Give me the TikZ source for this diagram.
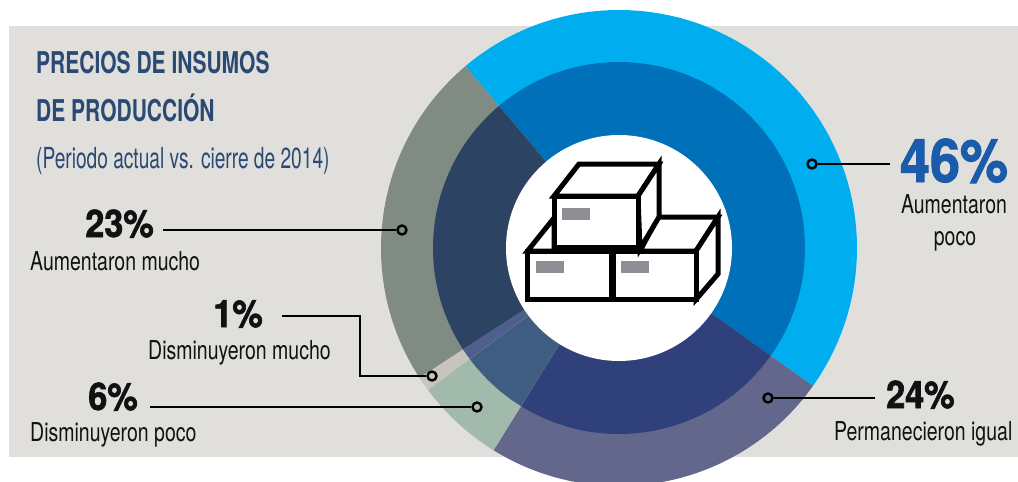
\documentclass[tikz,border=0pt]{standalone}
\usepackage{fontspec}
\setmainfont{TeX Gyre Heros}
\newfontfamily\titlefont{TeX Gyre Heros}[FakeStretch=0.70]
\newfontfamily\subfont{TeX Gyre Heros}[FakeStretch=0.66]
\newfontfamily\labfont{TeX Gyre Heros}[FakeStretch=0.75]
\newfontfamily\numfont{TeX Gyre Heros}[FakeStretch=0.90,FakeBold=1.6]
\definecolor{bgc}{HTML}{E0DFDC}
\definecolor{titlec}{HTML}{2A4A73}
\definecolor{num46}{HTML}{1B5CAA}
\definecolor{lblue}{HTML}{00AEEF}
\definecolor{dblue}{HTML}{0070B9}
\definecolor{purp}{HTML}{63678C}
\definecolor{navy}{HTML}{30407A}
\definecolor{lgreen}{HTML}{A2BAAC}
\definecolor{steel}{HTML}{3E5D80}
\definecolor{beige}{HTML}{C8C3BC}
\definecolor{thinc}{HTML}{4E5E8E}
\definecolor{ggreen}{HTML}{7F8B83}
\definecolor{slate}{HTML}{2C4363}
\definecolor{labc}{HTML}{111111}
\definecolor{tagc}{HTML}{8D8F94}
\begin{document}
\begin{tikzpicture}[x=1pt,y=-1pt,
  lab/.style={font=\labfont\fontsize{26}{26}\selectfont, inner sep=0pt, text=labc},
  num/.style={font=\numfont\bfseries\fontsize{38}{38}\selectfont, inner sep=0pt, text=labc},
  dotc/.style={circle, draw=black, line width=2.4pt, minimum size=9pt, inner sep=0pt},
  leader/.style={draw=black, line width=2.6pt, line join=miter},
  boxl/.style={draw=black, line width=5pt, fill=white, line join=miter},
  tag/.style={fill=tagc},
]
\useasboundingbox (0,0) rectangle (1018,482);
\begin{scope}
\clip (0,0) rectangle (1018,482);
\fill[bgc] (9,26) rectangle (1018,457);
\coordinate (C) at (619,248);
\foreach \a/\b/\co/\ci in {-130.2/35.4/lblue/dblue, 35.4/121.8/purp/navy, 121.8/143.4/lgreen/steel, 143.4/147.0/beige/thinc, 147.0/229.8/ggreen/slate}{
  \fill[\co] (C) -- ++(\a:238) arc[start angle=\a, end angle=\b, radius=238] -- cycle;
  \fill[\ci] (C) -- ++(\a:186) arc[start angle=\a, end angle=\b, radius=186] -- cycle;
}
\fill[white] (C) circle[radius=113];
\end{scope}

% box icon
\draw[boxl] (527.5,251) -- (554,218) -- (554,251) -- cycle;
\draw[boxl] (527.5,251) rectangle (611,299.5);
\draw[boxl] (640,251) -- (658,217) -- (718,217) -- (696,251) -- cycle;
\draw[boxl] (696,251) -- (718,217) -- (718,274) -- (696,299.5) -- cycle;
\draw[boxl] (613,251) rectangle (696,299.5);
\draw[boxl] (554,196) -- (579,164) -- (659,164) -- (638,196) -- cycle;
\draw[boxl] (638,196) -- (659,164) -- (659,217) -- (640,249) -- cycle;
\draw[boxl] (554,196) rectangle (638,247);
\fill[tag] (562,208) rectangle (590,220);
\fill[tag] (536,261) rectangle (564,273);
\fill[tag] (621,261) rectangle (649,273);

% title
\node[anchor=base west, inner sep=0pt, text=titlec, font=\titlefont\bfseries\fontsize{30}{30}\selectfont] (t1) at (36,73) {PRECIOS DE INSUMOS};
\node[anchor=base west, inner sep=0pt, text=titlec, font=\titlefont\bfseries\fontsize{30}{30}\selectfont] (t2) at (36,121) {DE PRODUCCIÓN};
\node[anchor=base west, inner sep=0pt, text=titlec, font=\subfont\fontsize{29}{29}\selectfont] (t3) at (36,168) {(Periodo actual vs. cierre de 2014)};

% 46%
\node[dotc] (d46) at (812,164) {};
\coordinate (e46) at (890,164);
\draw[leader] (d46) -- (e46);
\node[anchor=base, inner sep=0pt, text=num46, font=\numfont\bfseries\fontsize{60}{60}\selectfont] (n46) at (954,182) {46\%};
\node[lab, anchor=base] (a46) at (954,213) {Aumentaron};
\node[lab, anchor=base] (b46) at (955,245) {poco};

% 24%
\node[dotc] (d24) at (768,398) {};
\coordinate (e24) at (875,398);
\draw[leader] (d24) -- (e24);
\node[num, anchor=base west] (n24) at (886,408) {24\%};
\node[lab, anchor=base west] (a24) at (834,440) {Permanecieron igual};

% 23%
\node[dotc] (d23) at (402,230) {};
\coordinate (s23) at (163,230);
\draw[leader] (s23) -- (d23);
\node[num, anchor=base east] (n23) at (154,237) {23\%};
\node[lab, anchor=base west] (a23) at (30,270) {Aumentaron mucho};

% 1%
\node[dotc] (d1) at (432,376) {};
\coordinate (s1) at (282,316);
\coordinate (k1) at (360,316);
\draw[leader] (s1) -- (k1) |- (d1);
\node[num, anchor=base east] (n1) at (263,327) {1\%};
\node[lab, anchor=base west] (a1) at (148,359) {Disminuyeron mucho};

% 6%
\node[dotc] (d6) at (477,407) {};
\coordinate (s6) at (150,407);
\draw[leader] (s6) -- (d6);
\node[num, anchor=base east] (n6) at (138,410) {6\%};
\node[lab, anchor=base west] (a6) at (30,441) {Disminuyeron poco};
\end{tikzpicture}
\end{document}
